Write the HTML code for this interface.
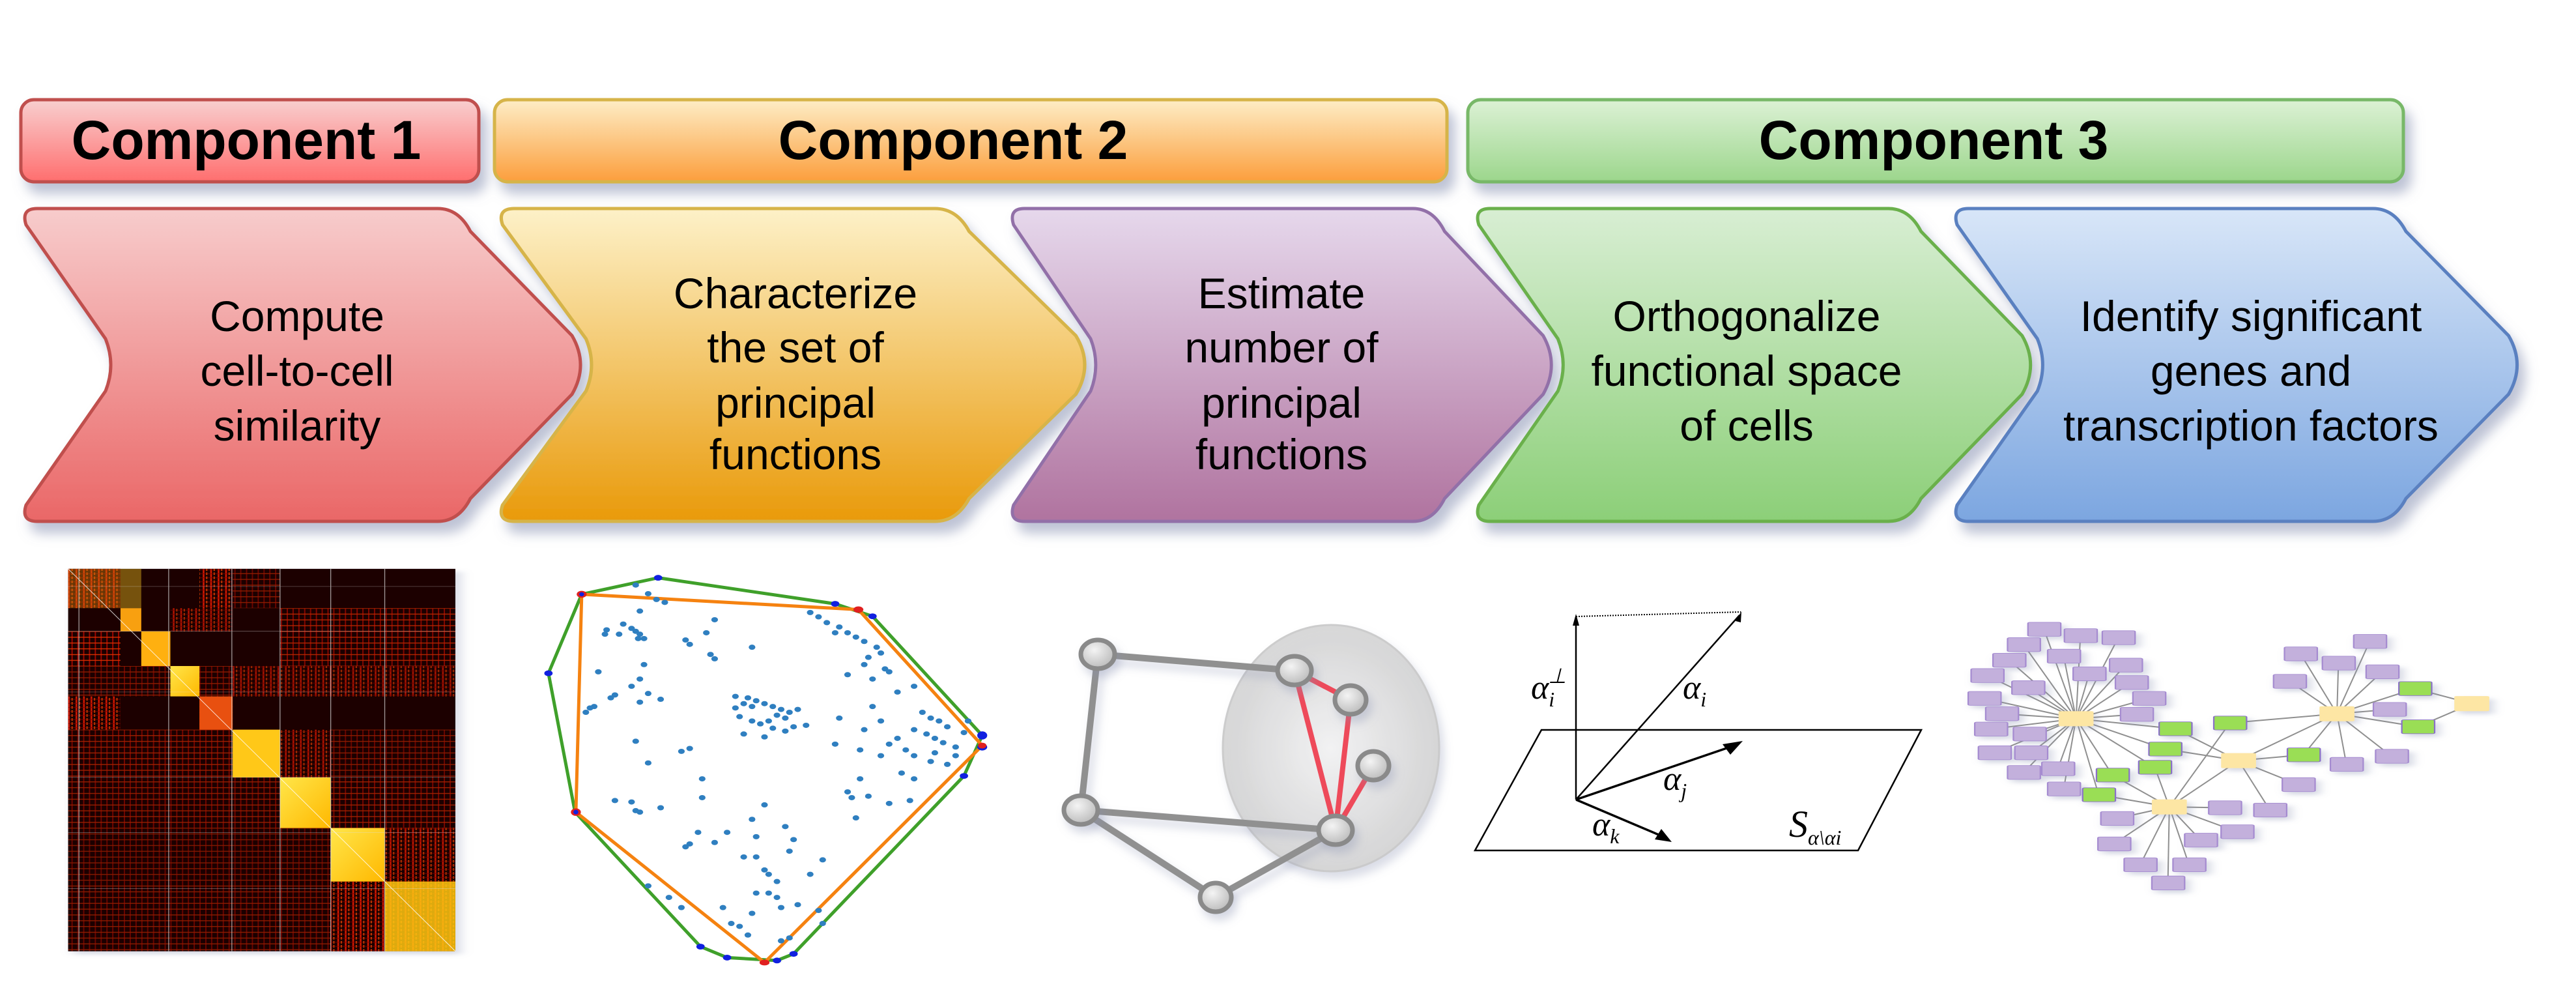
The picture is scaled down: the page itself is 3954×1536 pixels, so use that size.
<!DOCTYPE html>
<html><head><meta charset="utf-8"><style>html,body{margin:0;padding:0;background:#fff;}svg{display:block}.dots ellipse{rx:4px;ry:9px}</style></head>
<body>
<svg width="3954" height="1536" viewBox="0 0 3954 1536" xmlns="http://www.w3.org/2000/svg">
<defs>
<filter id="sh" x="-10%" y="-10%" width="130%" height="140%"><feDropShadow dx="10" dy="16" stdDeviation="9" flood-color="#7d86aa" flood-opacity="0.5"/></filter>
<filter id="sh2" x="-10%" y="-10%" width="130%" height="140%"><feDropShadow dx="6" dy="10" stdDeviation="7" flood-color="#8890b0" flood-opacity="0.35"/></filter>
<linearGradient id="h1" x1="0" y1="0" x2="0" y2="1"><stop offset="0" stop-color="#f8cfcf"/><stop offset="1" stop-color="#ff6e6e"/></linearGradient>
<linearGradient id="h2" x1="0" y1="0" x2="0" y2="1"><stop offset="0" stop-color="#fdedc6"/><stop offset="1" stop-color="#fc9e3c"/></linearGradient>
<linearGradient id="h3" x1="0" y1="0" x2="0" y2="1"><stop offset="0" stop-color="#dcf1d5"/><stop offset="1" stop-color="#9cd68c"/></linearGradient>
<linearGradient id="c1" x1="0" y1="0" x2="0" y2="1"><stop offset="0" stop-color="#f7cccc"/><stop offset="1" stop-color="#ea6767"/></linearGradient>
<linearGradient id="c2" x1="0" y1="0" x2="0" y2="1"><stop offset="0" stop-color="#fdf1c8"/><stop offset="1" stop-color="#e99a0a"/></linearGradient>
<linearGradient id="c3" x1="0" y1="0" x2="0" y2="1"><stop offset="0" stop-color="#e6d8ec"/><stop offset="1" stop-color="#b0739f"/></linearGradient>
<linearGradient id="c4" x1="0" y1="0" x2="0" y2="1"><stop offset="0" stop-color="#d8eed3"/><stop offset="1" stop-color="#8ccf78"/></linearGradient>
<linearGradient id="c5" x1="0" y1="0" x2="0" y2="1"><stop offset="0" stop-color="#d8e6f8"/><stop offset="1" stop-color="#7ca6e0"/></linearGradient>
<linearGradient id="yel" x1="0" y1="0" x2="1" y2="1"><stop offset="0" stop-color="#ffe64a"/><stop offset="1" stop-color="#ffb800"/></linearGradient>
<radialGradient id="ell" cx="0.5" cy="0.5" r="0.5"><stop offset="0" stop-color="#f4f4f4"/><stop offset="1" stop-color="#d4d4d4"/></radialGradient>
<radialGradient id="nd" cx="0.4" cy="0.35" r="0.7"><stop offset="0" stop-color="#f4f4f4"/><stop offset="1" stop-color="#b8b8b8"/></radialGradient>
<pattern id="st" width="9" height="14" patternUnits="userSpaceOnUse"><rect width="9" height="14" fill="#1a0000"/><rect x="1" width="2" height="14" fill="#d41800"/><rect x="5" y="3" width="1.5" height="8" fill="#ff5a00"/><rect y="6" width="9" height="2" fill="#7a0000"/></pattern>
<pattern id="st2" width="7" height="20" patternUnits="userSpaceOnUse"><rect width="7" height="20" fill="#1a0000"/><rect x="2" width="1.5" height="20" fill="#a00800"/><rect y="9" width="7" height="3" fill="#e03000"/></pattern>
</defs>

<g filter="url(#sh)">
<rect x="32" y="153" width="703" height="126" rx="20" fill="url(#h1)" stroke="#c0504d" stroke-width="5"/>
<rect x="759" y="153" width="1462" height="126" rx="20" fill="url(#h2)" stroke="#d6b448" stroke-width="5"/>
<rect x="2253" y="153" width="1436" height="126" rx="20" fill="url(#h3)" stroke="#78b868" stroke-width="5"/>
</g>
<g font-family="Liberation Sans, sans-serif" font-weight="bold" font-size="84" text-anchor="middle" fill="#000">
<text x="378" y="244">Component 1</text>
<text x="1463" y="244">Component 2</text>
<text x="2968" y="244">Component 3</text>
</g>

<g filter="url(#sh)">
<path transform="translate(32,320) scale(1.0,1)" d="M25,0 L640,0 Q672,0 690,35 L846,195 Q872,240 846,285 L690,445 Q672,480 640,480 L25,480 Q0,480 8,455 L130,280 Q146,240 130,200 L8,25 Q0,0 25,0 Z" fill="url(#c1)" stroke="#c0504d" stroke-width="5"/>
<path transform="translate(763,320) scale(1.05,1)" d="M25,0 L640,0 Q672,0 690,35 L846,195 Q872,240 846,285 L690,445 Q672,480 640,480 L25,480 Q0,480 8,455 L130,280 Q146,240 130,200 L8,25 Q0,0 25,0 Z" fill="url(#c2)" stroke="#d6b448" stroke-width="5"/>
<path transform="translate(1548,320) scale(0.97,1)" d="M25,0 L640,0 Q672,0 690,35 L846,195 Q872,240 846,285 L690,445 Q672,480 640,480 L25,480 Q0,480 8,455 L130,280 Q146,240 130,200 L8,25 Q0,0 25,0 Z" fill="url(#c3)" stroke="#9270a8" stroke-width="5"/>
<path transform="translate(2262,320) scale(0.995,1)" d="M25,0 L640,0 Q672,0 690,35 L846,195 Q872,240 846,285 L690,445 Q672,480 640,480 L25,480 Q0,480 8,455 L130,280 Q146,240 130,200 L8,25 Q0,0 25,0 Z" fill="url(#c4)" stroke="#6ab04c" stroke-width="5"/>
<path transform="translate(2996,320) scale(1.01,1)" d="M25,0 L640,0 Q672,0 690,35 L846,195 Q872,240 846,285 L690,445 Q672,480 640,480 L25,480 Q0,480 8,455 L130,280 Q146,240 130,200 L8,25 Q0,0 25,0 Z" fill="url(#c5)" stroke="#5a80c0" stroke-width="5"/>
</g>
<g font-family="Liberation Sans, sans-serif" font-size="66" text-anchor="middle" fill="#000">
<text x="456" y="508">Compute</text><text x="456" y="592">cell-to-cell</text><text x="456" y="676">similarity</text>
<text x="1221" y="473">Characterize</text><text x="1221" y="556">the set of</text><text x="1221" y="641">principal</text><text x="1221" y="720">functions</text>
<text x="1967" y="473">Estimate</text><text x="1967" y="556">number of</text><text x="1967" y="641">principal</text><text x="1967" y="720">functions</text>
<text x="2681" y="508">Orthogonalize</text><text x="2681" y="592">functional space</text><text x="2681" y="676">of cells</text>
<text x="3455" y="508">Identify significant</text><text x="3455" y="592">genes and</text><text x="3455" y="676">transcription factors</text>
</g>

<svg x="0" y="840" width="2000" height="696" viewBox="0 0 1568 1568" preserveAspectRatio="none">
<g filter="url(#sh2)"><rect x="82" y="74" width="466" height="1322" fill="#1a0000"/></g>
<g>
<rect x="82" y="74" width="63" height="136" fill="url(#st)" opacity="0.9"/>
<rect x="240" y="74" width="40" height="136" fill="url(#st)"/>
<rect x="280" y="74" width="57" height="136" fill="url(#st2)" opacity="0.6"/>
<rect x="82" y="290" width="63" height="120" fill="url(#st2)"/>
<rect x="205" y="210" width="75" height="80" fill="url(#st)" opacity="0.8"/>
<rect x="337" y="210" width="211" height="200" fill="url(#st2)" opacity="0.8"/>
<rect x="82" y="410" width="200" height="105" fill="url(#st2)" opacity="0.6"/>
<rect x="280" y="410" width="268" height="105" fill="url(#st)" opacity="0.75"/>
<rect x="82" y="515" width="63" height="115" fill="url(#st)"/>
<rect x="240" y="515" width="40" height="115" fill="url(#st2)"/>
<rect x="82" y="630" width="255" height="165" fill="url(#st2)" opacity="0.7"/>
<rect x="337" y="630" width="61" height="165" fill="url(#st)" opacity="0.8"/>
<rect x="398" y="630" width="150" height="165" fill="url(#st2)" opacity="0.6"/>
<rect x="82" y="795" width="255" height="175" fill="url(#st2)" opacity="0.65"/>
<rect x="398" y="795" width="150" height="175" fill="url(#st2)" opacity="0.7"/>
<rect x="82" y="970" width="316" height="185" fill="url(#st2)" opacity="0.55"/>
<rect x="463" y="970" width="85" height="185" fill="url(#st)" opacity="0.9"/>
<rect x="82" y="1155" width="316" height="241" fill="url(#st2)" opacity="0.6"/>
<rect x="398" y="1155" width="65" height="241" fill="url(#st)"/>
<rect x="145" y="74" width="25" height="136" fill="#ffcc20" opacity="0.4"/>
<rect x="82" y="74" width="63" height="136" fill="#ff9a10" opacity="0.35"/>
<rect x="145" y="210" width="25" height="80" fill="#f8a010"/>
<rect x="170" y="290" width="35" height="120" fill="#ffb010"/>
<rect x="205" y="410" width="35" height="105" fill="url(#yel)"/>
<rect x="240" y="515" width="40" height="115" fill="#e85010"/>
<rect x="280" y="630" width="57" height="165" fill="#ffc818"/>
<rect x="337" y="795" width="61" height="175" fill="url(#yel)"/>
<rect x="398" y="970" width="65" height="185" fill="url(#yel)"/>
<rect x="463" y="1155" width="85" height="241" fill="#ffc810"/>
<rect x="463" y="1155" width="85" height="241" fill="url(#st)" opacity="0.15"/>
<line x1="82" y1="74" x2="548" y2="1396" stroke="#fff" stroke-width="1" vector-effect="non-scaling-stroke" opacity="0.8"/>
<g stroke="#ddd" stroke-width="1" vector-effect="non-scaling-stroke" opacity="0.7">
<line x1="82" y1="135" x2="548" y2="135"/><line x1="82" y1="290" x2="548" y2="290"/><line x1="82" y1="500" x2="548" y2="500"/><line x1="82" y1="795" x2="548" y2="795"/><line x1="82" y1="985" x2="548" y2="985"/><line x1="82" y1="1180" x2="548" y2="1180"/>
<line x1="203" y1="74" x2="203" y2="1396"/><line x1="279" y1="74" x2="279" y2="1396"/><line x1="337" y1="74" x2="337" y2="1396"/><line x1="398" y1="74" x2="398" y2="1396"/><line x1="463" y1="74" x2="463" y2="1396"/><line x1="95" y1="74" x2="95" y2="1396"/>
</g>
</g>
<g fill="none">
<polygon points="792,105 1005,195 1050,238 1182,650 1160,790 955,1405 935,1428 875,1418 843,1380 692,915 660,435 700,162" stroke="#3fa02a" stroke-width="5" vector-effect="non-scaling-stroke"/>
<polygon points="700,162 1033,215 1182,685 920,1435 693,915" stroke="#f58210" stroke-width="5" vector-effect="non-scaling-stroke"/>
</g>
<g fill="#2f7fc0" class="dots">
<ellipse cx="765" cy="130"/><ellipse cx="780" cy="160"/><ellipse cx="790" cy="180"/><ellipse cx="800" cy="190"/><ellipse cx="770" cy="220"/><ellipse cx="750" cy="265"/><ellipse cx="760" cy="280"/><ellipse cx="765" cy="290"/><ellipse cx="770" cy="300"/><ellipse cx="775" cy="315"/><ellipse cx="730" cy="285"/><ellipse cx="745" cy="300"/><ellipse cx="728" cy="300"/><ellipse cx="768" cy="315"/>
<ellipse cx="825" cy="320"/><ellipse cx="830" cy="335"/><ellipse cx="850" cy="295"/><ellipse cx="860" cy="250"/><ellipse cx="855" cy="370"/><ellipse cx="860" cy="385"/><ellipse cx="905" cy="345"/><ellipse cx="775" cy="405"/><ellipse cx="720" cy="430"/><ellipse cx="770" cy="455"/><ellipse cx="760" cy="480"/><ellipse cx="740" cy="510"/><ellipse cx="735" cy="520"/><ellipse cx="780" cy="505"/><ellipse cx="795" cy="525"/><ellipse cx="770" cy="535"/><ellipse cx="715" cy="550"/><ellipse cx="705" cy="570"/><ellipse cx="710" cy="555"/>
<ellipse cx="885" cy="515"/><ellipse cx="900" cy="520"/><ellipse cx="910" cy="530"/><ellipse cx="920" cy="540"/><ellipse cx="930" cy="550"/><ellipse cx="895" cy="540"/><ellipse cx="905" cy="550"/><ellipse cx="885" cy="555"/><ellipse cx="940" cy="560"/><ellipse cx="950" cy="570"/><ellipse cx="960" cy="560"/><ellipse cx="935" cy="580"/><ellipse cx="945" cy="590"/><ellipse cx="925" cy="600"/><ellipse cx="915" cy="610"/><ellipse cx="905" cy="600"/><ellipse cx="890" cy="585"/><ellipse cx="930" cy="625"/><ellipse cx="945" cy="635"/><ellipse cx="955" cy="620"/><ellipse cx="970" cy="615"/><ellipse cx="920" cy="655"/><ellipse cx="895" cy="645"/>
<ellipse cx="975" cy="225"/><ellipse cx="985" cy="240"/><ellipse cx="995" cy="260"/><ellipse cx="1010" cy="275"/><ellipse cx="1005" cy="295"/><ellipse cx="1020" cy="295"/><ellipse cx="1030" cy="310"/><ellipse cx="1040" cy="325"/><ellipse cx="1055" cy="345"/><ellipse cx="1060" cy="365"/><ellipse cx="1045" cy="380"/><ellipse cx="1040" cy="405"/><ellipse cx="1065" cy="420"/><ellipse cx="1070" cy="430"/><ellipse cx="1020" cy="440"/><ellipse cx="1050" cy="455"/><ellipse cx="1100" cy="480"/><ellipse cx="1080" cy="500"/>
<ellipse cx="1110" cy="570"/><ellipse cx="1120" cy="590"/><ellipse cx="1130" cy="600"/><ellipse cx="1140" cy="620"/><ellipse cx="1100" cy="630"/><ellipse cx="1115" cy="645"/><ellipse cx="1125" cy="660"/><ellipse cx="1135" cy="675"/><ellipse cx="1150" cy="690"/><ellipse cx="1080" cy="660"/><ellipse cx="1070" cy="680"/><ellipse cx="1090" cy="700"/><ellipse cx="1100" cy="720"/><ellipse cx="1120" cy="740"/><ellipse cx="1140" cy="750"/><ellipse cx="1060" cy="720"/><ellipse cx="1085" cy="780"/><ellipse cx="1100" cy="800"/><ellipse cx="1050" cy="550"/><ellipse cx="1060" cy="600"/><ellipse cx="1010" cy="590"/><ellipse cx="1040" cy="630"/><ellipse cx="1005" cy="680"/><ellipse cx="1035" cy="700"/><ellipse cx="1125" cy="710"/><ellipse cx="1150" cy="720"/><ellipse cx="1160" cy="640"/><ellipse cx="1165" cy="600"/>
<ellipse cx="765" cy="670"/><ellipse cx="820" cy="705"/><ellipse cx="830" cy="695"/><ellipse cx="780" cy="745"/><ellipse cx="845" cy="800"/><ellipse cx="845" cy="865"/><ellipse cx="740" cy="875"/><ellipse cx="760" cy="880"/><ellipse cx="765" cy="910"/><ellipse cx="770" cy="915"/><ellipse cx="795" cy="900"/><ellipse cx="920" cy="890"/><ellipse cx="905" cy="940"/><ellipse cx="945" cy="965"/><ellipse cx="840" cy="985"/><ellipse cx="875" cy="985"/><ellipse cx="860" cy="1020"/><ellipse cx="830" cy="1025"/><ellipse cx="825" cy="1035"/><ellipse cx="910" cy="1000"/><ellipse cx="955" cy="1010"/><ellipse cx="950" cy="1050"/><ellipse cx="990" cy="1080"/><ellipse cx="895" cy="1070"/><ellipse cx="910" cy="1070"/><ellipse cx="920" cy="1115"/><ellipse cx="925" cy="1130"/><ellipse cx="935" cy="1155"/><ellipse cx="975" cy="1130"/><ellipse cx="910" cy="1195"/><ellipse cx="925" cy="1195"/><ellipse cx="935" cy="1210"/><ellipse cx="960" cy="1235"/><ellipse cx="940" cy="1245"/><ellipse cx="905" cy="1265"/><ellipse cx="870" cy="1245"/><ellipse cx="880" cy="1300"/><ellipse cx="890" cy="1310"/><ellipse cx="900" cy="1340"/><ellipse cx="940" cy="1360"/><ellipse cx="950" cy="1350"/><ellipse cx="1020" cy="845"/><ellipse cx="1025" cy="865"/><ellipse cx="1045" cy="860"/><ellipse cx="1030" cy="935"/><ellipse cx="1070" cy="885"/><ellipse cx="1095" cy="875"/><ellipse cx="1035" cy="800"/><ellipse cx="985" cy="1255"/><ellipse cx="990" cy="1300"/><ellipse cx="820" cy="1245"/><ellipse cx="805" cy="1210"/><ellipse cx="780" cy="1170"/>
</g>
<g fill="#1020e0">
<ellipse cx="792" cy="105" rx="5" ry="10"/><ellipse cx="1005" cy="195" rx="5" ry="10"/><ellipse cx="1050" cy="238" rx="5" ry="10"/><ellipse cx="1182" cy="650" rx="6" ry="14"/><ellipse cx="1182" cy="690" rx="6" ry="12"/><ellipse cx="1160" cy="790" rx="5" ry="10"/><ellipse cx="955" cy="1405" rx="5" ry="10"/><ellipse cx="935" cy="1428" rx="5" ry="10"/><ellipse cx="875" cy="1418" rx="5" ry="10"/><ellipse cx="843" cy="1380" rx="5" ry="10"/><ellipse cx="660" cy="435" rx="5" ry="10"/>
</g>
<g fill="#e02020">
<ellipse cx="700" cy="162" rx="6" ry="12"/><ellipse cx="1033" cy="215" rx="6" ry="11"/><ellipse cx="1182" cy="685" rx="5" ry="10"/><ellipse cx="920" cy="1435" rx="6" ry="10"/><ellipse cx="693" cy="915" rx="6" ry="13"/>
</g>
<ellipse cx="700" cy="162" rx="3" ry="7" fill="#1020e0"/><ellipse cx="693" cy="915" rx="3" ry="8" fill="#1020e0"/>
</svg>

<g filter="url(#sh2)">
<ellipse cx="2043" cy="1148" rx="166" ry="189" fill="url(#ell)" stroke="#c8c8c8" stroke-width="3" opacity="0.9"/>
</g>
<g stroke="#909090" stroke-width="10" fill="none" filter="url(#sh2)">
<line x1="1685" y1="1004" x2="1987" y2="1029"/>
<line x1="1685" y1="1004" x2="1659" y2="1243"/>
<line x1="1659" y1="1243" x2="2050" y2="1274"/>
<line x1="1659" y1="1243" x2="1866" y2="1377"/>
<line x1="1866" y1="1377" x2="2050" y2="1274"/>
</g>
<g stroke="#ee4a5a" stroke-width="8">
<line x1="1987" y1="1029" x2="2073" y2="1074"/>
<line x1="1987" y1="1029" x2="2050" y2="1274"/>
<line x1="2073" y1="1074" x2="2050" y2="1274"/>
<line x1="2108" y1="1175" x2="2050" y2="1274"/>
</g>
<g fill="url(#nd)" stroke="#8a8a8a" stroke-width="7" filter="url(#sh2)">
<ellipse cx="1685" cy="1004" rx="26" ry="22"/><ellipse cx="1987" cy="1029" rx="26" ry="22"/><ellipse cx="2073" cy="1074" rx="24" ry="22"/><ellipse cx="2108" cy="1175" rx="24" ry="22"/><ellipse cx="2050" cy="1274" rx="26" ry="22"/><ellipse cx="1659" cy="1243" rx="26" ry="22"/><ellipse cx="1866" cy="1377" rx="24" ry="22"/>
</g>

<g stroke="#000" fill="none" stroke-width="2.5">
<polygon points="2366,1120 2949,1120 2852,1305 2264,1305"/>
<line x1="2419" y1="1227" x2="2419" y2="950"/>
<line x1="2419" y1="1227" x2="2670" y2="944"/>
<line x1="2419" y1="1227" x2="2665" y2="1143" stroke-width="3.5"/>
<line x1="2419" y1="1227" x2="2558" y2="1286" stroke-width="3.5"/>
<line x1="2419" y1="946" x2="2672" y2="939" stroke-dasharray="2,2" stroke-width="2"/>
</g>
<g fill="#000">
<polygon points="2419,942 2414,960 2424,960"/>
<polygon points="2673,938 2664,953 2672,955"/>
<polygon points="2675,1137 2644,1142 2656,1158"/>
<polygon points="2566,1292 2540,1288 2550,1272"/>
</g>
<g font-family="Liberation Serif, serif" font-style="italic" font-size="52" fill="#000">
<text x="2350" y="1072">α<tspan font-size="32" dy="12">i</tspan><tspan font-size="32" dx="-10" dy="-36">⊥</tspan></text>
<text x="2583" y="1072">α<tspan font-size="32" dy="12">i</tspan></text>
<text x="2553" y="1212">α<tspan font-size="32" dy="12">j</tspan></text>
<text x="2444" y="1282">α<tspan font-size="32" dy="12">k</tspan></text>
<text x="2746" y="1284" font-size="58">S<tspan font-size="32" dy="12">α\αi</tspan></text>
</g>

<svg x="2200" y="840" width="1754" height="696" viewBox="0 0 1568 1568" preserveAspectRatio="none">
<path vector-effect="non-scaling-stroke" stroke="#8f8f8f" stroke-width="2" d="M882,592 L838,283 M882,592 L888,305 M882,592 L940,312 M882,592 L810,336 M882,592 L865,376 M882,592 L790,390 M882,592 L950,407 M882,592 L900,437 M882,592 L760,443 M882,592 L958,467 M882,592 L816,485 M882,592 L982,522 M882,592 L756,522 M882,592 L780,575 M882,592 L965,577 M882,592 L765,628 M882,592 L818,645 M882,592 L770,710 M882,592 L820,710 M882,592 L810,778 M882,592 L857,765 M882,592 L865,835 M882,592 L1018,627 M882,592 L1004,697 M882,592 L990,760 M882,592 L932,787 M882,592 L913,855 M1010,897 L913,855 M1010,897 L932,787 M1010,897 L990,760 M1010,897 L1093,607 M1010,897 L1086,900 M1010,897 L1103,983 M1010,897 L1053,1012 M1010,897 L938,937 M1010,897 L934,1025 M1010,897 L970,1097 M1010,897 L1037,1097 M1010,897 L1008,1160 M1010,897 L1105,737 M1105,737 L1004,697 M1105,737 L1018,627 M1105,737 L1194,717 M1105,737 L1187,820 M1105,737 L1148,908 M1105,737 L1240,575 M1240,575 L1190,368 M1240,575 L1285,325 M1240,575 L1242,400 M1240,575 L1302,430 M1240,575 L1175,463 M1240,575 L1312,560 M1240,575 L1315,722 M1240,575 L1253,750 M1240,575 L1347,488 M1240,575 L1351,620 M1240,575 L1093,607 M1240,575 L1194,717 M1425,540 L1347,488 M1425,540 L1351,620" fill="none"/>
<g fill="#c3b0dc" stroke="#a58bd0" stroke-width="2" filter="url(#sh2)">
<g transform="translate(-22,-24)">
<rect x="838" y="283" width="45" height="48" rx="3"/><rect x="888" y="305" width="45" height="48" rx="3"/><rect x="940" y="312" width="45" height="48" rx="3"/><rect x="810" y="336" width="45" height="48" rx="3"/><rect x="865" y="376" width="45" height="48" rx="3"/><rect x="790" y="390" width="45" height="48" rx="3"/><rect x="950" y="407" width="45" height="48" rx="3"/><rect x="900" y="437" width="45" height="48" rx="3"/><rect x="760" y="443" width="45" height="48" rx="3"/><rect x="958" y="467" width="45" height="48" rx="3"/><rect x="816" y="485" width="45" height="48" rx="3"/><rect x="982" y="522" width="45" height="48" rx="3"/><rect x="756" y="522" width="45" height="48" rx="3"/><rect x="780" y="575" width="45" height="48" rx="3"/><rect x="965" y="577" width="45" height="48" rx="3"/><rect x="765" y="628" width="45" height="48" rx="3"/><rect x="818" y="645" width="45" height="48" rx="3"/><rect x="770" y="710" width="45" height="48" rx="3"/><rect x="820" y="710" width="45" height="48" rx="3"/><rect x="810" y="778" width="45" height="48" rx="3"/><rect x="857" y="765" width="45" height="48" rx="3"/><rect x="865" y="835" width="45" height="48" rx="3"/><rect x="1190" y="368" width="45" height="48" rx="3"/><rect x="1285" y="325" width="45" height="48" rx="3"/><rect x="1242" y="400" width="45" height="48" rx="3"/><rect x="1302" y="430" width="45" height="48" rx="3"/><rect x="1175" y="463" width="45" height="48" rx="3"/><rect x="1312" y="560" width="45" height="48" rx="3"/><rect x="1315" y="722" width="45" height="48" rx="3"/><rect x="1253" y="750" width="45" height="48" rx="3"/><rect x="1187" y="820" width="45" height="48" rx="3"/><rect x="1148" y="908" width="45" height="48" rx="3"/><rect x="1086" y="900" width="45" height="48" rx="3"/><rect x="1103" y="983" width="45" height="48" rx="3"/><rect x="1053" y="1012" width="45" height="48" rx="3"/><rect x="938" y="937" width="45" height="48" rx="3"/><rect x="934" y="1025" width="45" height="48" rx="3"/><rect x="970" y="1097" width="45" height="48" rx="3"/><rect x="1037" y="1097" width="45" height="48" rx="3"/><rect x="1008" y="1160" width="45" height="48" rx="3"/>
</g>
<g transform="translate(-22,-24)" fill="#9ade55" stroke="#8a70c8">
<rect x="1018" y="627" width="45" height="48" rx="3"/><rect x="1093" y="607" width="45" height="48" rx="3"/><rect x="1004" y="697" width="45" height="48" rx="3"/><rect x="990" y="760" width="45" height="48" rx="3"/><rect x="932" y="787" width="45" height="48" rx="3"/><rect x="913" y="855" width="45" height="48" rx="3"/><rect x="1347" y="488" width="45" height="48" rx="3"/><rect x="1351" y="620" width="45" height="48" rx="3"/><rect x="1194" y="717" width="45" height="48" rx="3"/>
</g>
<g transform="translate(-24,-26)" fill="#fde6a4" stroke="none">
<rect x="882" y="592" width="48" height="52" rx="3"/><rect x="1240" y="575" width="48" height="52" rx="3"/><rect x="1105" y="737" width="48" height="52" rx="3"/><rect x="1010" y="897" width="48" height="52" rx="3"/><rect x="1425" y="540" width="48" height="52" rx="3"/>
</g>
</g>
</svg>
</svg>
</body></html>
